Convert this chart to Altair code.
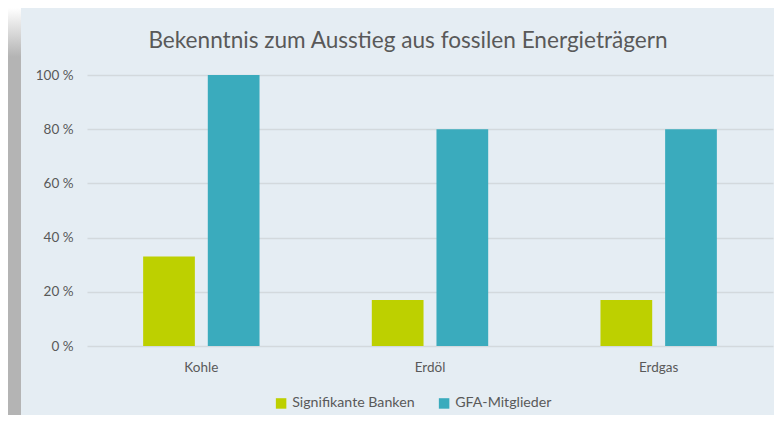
import altair as alt
import pandas as pd

categories = ["Kohle", "Erdöl", "Erdgas"]
series_names = ["Signifikante Banken", "GFA-Mitglieder"]
banken = [0.33, 0.17, 0.17]
gfa = [1.00, 0.80, 0.80]
colors = ["#bdd000", "#3aabbd"]

rows = []
for c, b, g in zip(categories, banken, gfa):
    rows.append({"Kategorie": c, "Serie": series_names[0], "Wert": b})
    rows.append({"Kategorie": c, "Serie": series_names[1], "Wert": g})
df = pd.DataFrame(rows)

FONT = "Lato"
TXT = "#595959"

bars = alt.Chart(df).mark_bar().encode(
    x=alt.X("Kategorie:N", sort=categories, title=None,
            scale=alt.Scale(paddingInner=0.491, paddingOuter=0.2455),
            axis=alt.Axis(labelAngle=0, domain=False, ticks=False, labelPadding=14,
                          labelFontSize=13.5, labelColor=TXT, labelFont=FONT)),
    xOffset=alt.XOffset("Serie:N", sort=series_names,
                        scale=alt.Scale(paddingInner=0.2, paddingOuter=0)),
    y=alt.Y("Wert:Q", title=None,
            scale=alt.Scale(domain=[0, 1]),
            axis=alt.Axis(values=[0, 0.2, 0.4, 0.6, 0.8, 1.0],
                          labelExpr="format(datum.value*100, 'd') + ' %'",
                          domain=False, ticks=False, labelPadding=14,
                          gridColor="#d3d9dd", gridWidth=1.5,
                          labelFontSize=13.5, labelColor=TXT, labelFont=FONT)),
    color=alt.Color("Serie:N", sort=series_names,
                    scale=alt.Scale(domain=series_names, range=colors),
                    legend=alt.Legend(title=None, orient="none", direction="horizontal",
                                      legendX=187, legendY=321,
                                      symbolType="square", symbolSize=110,
                                      symbolStrokeWidth=0, columnPadding=22,
                                      labelFontSize=14.2, labelColor=TXT, labelFont=FONT)),
)

shadow = alt.Chart(pd.DataFrame({"a": [0]})).mark_rect(clip=False).encode(
    x=alt.value(-79), x2=alt.value(-66), y=alt.value(-67), y2=alt.value(340),
    fill=alt.value({"gradient": "linear", "x1": 0, "y1": 0, "x2": 0, "y2": 1,
                    "stops": [{"offset": 0, "color": "#ffffff"},
                              {"offset": 0.12, "color": "#b4b4b4"},
                              {"offset": 1, "color": "#b4b4b4"}]}),
)

chart = alt.layer(shadow, bars).properties(
    width=686, height=271,
    autosize=alt.AutoSizeParams(type="none"),
    padding={"left": 79, "top": 67, "right": 1, "bottom": 69},
    background="#e5edf3",
    title=alt.Title("Bekenntnis zum Ausstieg aus fossilen Energieträgern",
                    fontSize=22.6, font=FONT, fontWeight="normal", color=TXT,
                    anchor="middle", offset=-45, dx=-22),
).configure_view(stroke=None)

chart.save("out.html", embed_options={"renderer": "svg", "actions": False})
